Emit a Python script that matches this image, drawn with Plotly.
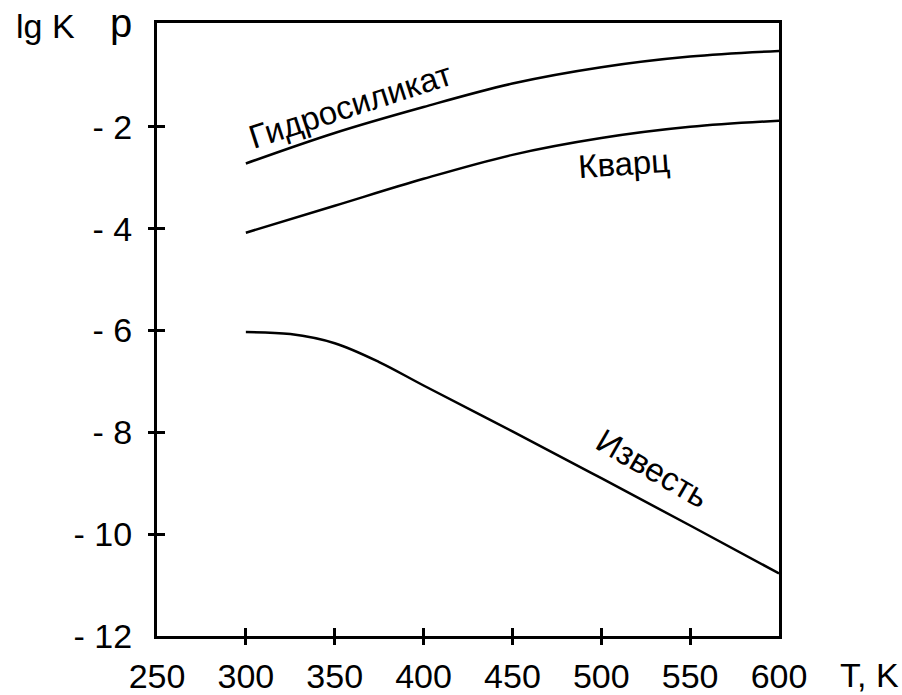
import plotly.graph_objects as go

# Temperature grid, K
T_hydro = [300, 350, 400, 450, 500, 550, 600]
T_quartz = [300, 350, 400, 450, 500, 550, 600]
T_lime = [300, 325, 350, 375, 400, 450, 500, 550, 600]

# lg Kp for each phase
lgK_hydro = [-2.72, -2.12, -1.61, -1.15, -0.83, -0.62, -0.51]
lgK_quartz = [-4.08, -3.55, -3.02, -2.55, -2.22, -2.00, -1.88]
lgK_lime = [-6.03, -6.07, -6.25, -6.62, -7.08, -7.98, -8.90, -9.83, -10.77]

x_ticks = [250, 300, 350, 400, 450, 500, 550, 600]
x_marks = [300, 350, 400, 450, 500, 550]
y_ticks = [-12, -10, -8, -6, -4, -2]
y_marks = [-10, -8, -6, -4, -2]
y_ticktext = ["- 12", "- 10", "- 8", "- 6", "- 4", "- 2"]

FONT = "Arial, Liberation Sans, sans-serif"
FS = 34

fig = go.Figure()
line_style = dict(color="black", width=2.5, shape="spline", smoothing=1.0)
for T, v in [(T_hydro, lgK_hydro), (T_quartz, lgK_quartz), (T_lime, lgK_lime)]:
    fig.add_trace(go.Scatter(x=T, y=v, mode="lines", line=line_style,
                             showlegend=False, hoverinfo="skip"))

# Invisible traces so the overlay axes are rendered
fig.add_trace(go.Scatter(x=[], y=[], xaxis="x2", yaxis="y2", showlegend=False))
fig.add_trace(go.Scatter(x=[], y=[], xaxis="x3", yaxis="y3", showlegend=False))

axis_common = dict(showgrid=False, zeroline=False, color="black", automargin=False)

fig.update_layout(
    width=902, height=695,
    margin=dict(l=157, r=123, t=23, b=59),
    paper_bgcolor="white", plot_bgcolor="white",
    font=dict(family=FONT, size=FS, color="black"),
    xaxis=dict(range=[250, 600], tickvals=x_ticks, ticks="",
               showline=True, mirror=True, linewidth=3, linecolor="black",
               ticklabelstandoff=8, **axis_common),
    yaxis=dict(range=[-12, 0.04], tickvals=y_ticks, ticktext=y_ticktext, ticks="",
               showline=True, mirror=True, linewidth=3, linecolor="black",
               ticklabelstandoff=15, **axis_common),
    # outside halves of the tick marks
    xaxis2=dict(overlaying="x", matches="x", anchor="y2", tickvals=x_marks,
                ticks="outside", ticklen=8, tickwidth=3, tickcolor="black",
                showticklabels=False, showline=False, **axis_common),
    yaxis2=dict(overlaying="y", matches="y", anchor="x2", tickvals=y_marks,
                ticks="outside", ticklen=8, tickwidth=3, tickcolor="black",
                showticklabels=False, showline=False, **axis_common),
    # inside halves of the tick marks
    xaxis3=dict(overlaying="x", matches="x", anchor="y3", tickvals=x_marks,
                ticks="inside", ticklen=8, tickwidth=3, tickcolor="black",
                showticklabels=False, showline=False, **axis_common),
    yaxis3=dict(overlaying="y", matches="y", anchor="x3", tickvals=y_marks,
                ticks="inside", ticklen=8, tickwidth=3, tickcolor="black",
                showticklabels=False, showline=False, **axis_common),
)

ann = [
    dict(text="Гидросиликат", x=358.6, y=-1.59, xref="x", yref="y",
         textangle=-18, font=dict(size=33)),
    dict(text="Кварц", x=513, y=-2.71, xref="x", yref="y",
         textangle=-4, font=dict(size=33)),
    dict(text="Известь", x=529, y=-8.71, xref="x", yref="y",
         textangle=30, font=dict(size=33)),
    dict(text="lg K", x=-0.18, y=0.995, xref="paper", yref="paper",
         xanchor="center", yanchor="middle"),
    dict(text="p", x=-0.058, y=1.0, xref="paper", yref="paper",
         xanchor="center", yanchor="middle", font=dict(size=40)),
    dict(text="T, K", x=1.146, y=-0.063, xref="paper", yref="paper",
         xanchor="center", yanchor="middle"),
]
for a in ann:
    a.setdefault("showarrow", False)
    fig.add_annotation(**a)

fig.write_html("out.html")
